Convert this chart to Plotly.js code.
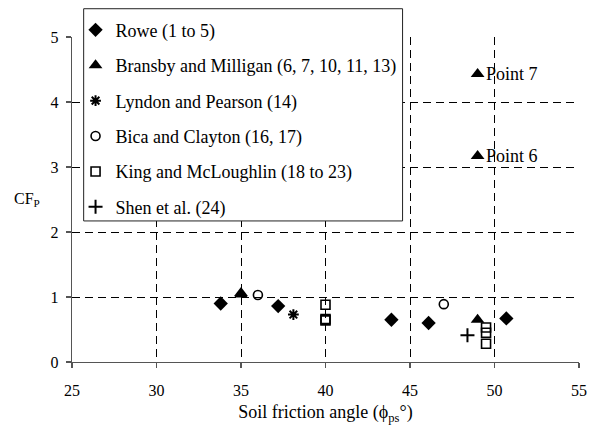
<!DOCTYPE html>
<html>
<head>
<meta charset="utf-8">
<script src="https://cdn.plot.ly/plotly-3.0.1.min.js"></script>
<style>
  html, body { margin: 0; padding: 0; background: #fff; }
  #chart { width: 600px; height: 428px; }
</style>
</head>
<body>
<div id="chart"></div>
<script>
// Passive earth pressure correction factor CF_P against soil friction angle
const roweX = [33.8, 37.2, 43.9, 46.1, 50.7];
const roweY = [0.90, 0.86, 0.65, 0.60, 0.67];

const bransbyX = [35.0, 35.0, 49.0, 49.0, 49.0];
const bransbyY = [1.06, 1.04, 3.17, 4.43, 0.65];
const pointLabels = [null, null, 'Point 6', 'Point 7', null];

const lyndonX = [38.1];
const lyndonY = [0.73];

const bicaX = [36.0, 47.0];
const bicaY = [1.03, 0.89];

const kingX = [40.0, 40.0, 40.0, 49.5, 49.5, 49.5];
const kingY = [0.88, 0.66, 0.64, 0.53, 0.45, 0.28];

const shenX = [48.4];
const shenY = [0.41];

const xTicks = [25, 30, 35, 40, 45, 50, 55];
const yTicks = [0, 1, 2, 3, 4, 5];

const serif = 'Liberation Serif, Times New Roman, Times, serif';
const ink = '#000';

function series(name, xs, ys, symbol, size, lineW, group) {
  return {
    type: 'scatter', mode: 'markers', name: name, x: xs, y: ys,
    legendgroup: group,
    marker: { symbol: symbol, size: size, color: ink, line: { color: ink, width: lineW } },
    cliponaxis: false, hoverinfo: 'x+y'
  };
}

const traces = [
  series('Rowe (1 to 5)', roweX, roweY, 'diamond', 11, 0, 'g1'),
  series('Bransby and Milligan (6, 7, 10, 11, 13)', bransbyX, bransbyY, 'triangle-up', 12, 0, 'g2'),
  series('Lyndon and Pearson (14)', lyndonX, lyndonY, 'asterisk-open', 9, 2, 'g3'),
  series('Bica and Clayton (16, 17)', bicaX, bicaY, 'circle-open', 9, 1.6, 'g4'),
  series('King and McLoughlin (18 to 23)', kingX, kingY, 'square-open', 9, 1.6, 'g5'),
  series('Shen et al. (24)', shenX, shenY, 'cross-thin-open', 10, 2, 'g6')
];

// Labels for the two isolated Bransby and Milligan tests
const annotations = [];
pointLabels.forEach((lab, i) => {
  if (!lab) return;
  annotations.push({
    x: bransbyX[i], y: bransbyY[i], xref: 'x', yref: 'y',
    text: lab, showarrow: false, xanchor: 'left', yanchor: 'middle',
    xshift: 6, font: { family: serif, size: 18, color: ink }
  });
});
// Horizontal y-axis caption
annotations.push({
  x: -0.089, y: 0.5, xref: 'paper', yref: 'paper',
  text: 'CF<sub>P</sub>', showarrow: false, xanchor: 'center', yanchor: 'middle',
  font: { family: serif, size: 16, color: ink }
});

const axisCommon = {
  showline: true, linecolor: '#555', linewidth: 1.3,
  ticks: 'outside', ticklen: 5, tickcolor: '#555', tickwidth: 1.2,
  showgrid: true, gridcolor: ink, gridwidth: 1, griddash: '8px,5px',
  zeroline: false, tickfont: { family: serif, size: 16, color: ink },
  fixedrange: true
};

const layout = {
  width: 600, height: 428,
  margin: { l: 72, r: 21, t: 37, b: 66 },
  paper_bgcolor: '#fff', plot_bgcolor: '#fff',
  font: { family: serif, color: ink },
  showlegend: true,
  xaxis: Object.assign({}, axisCommon, {
    range: [25, 55], tickmode: 'array', tickvals: xTicks,
    ticklabelstandoff: 8,
    title: { text: 'Soil friction angle (ϕ<sub>ps</sub>°)', font: { family: serif, size: 18, color: ink }, standoff: 8 }
  }),
  yaxis: Object.assign({}, axisCommon, {
    range: [0, 5], tickmode: 'array', tickvals: yTicks,
    ticklabelstandoff: 4
  }),
  legend: {
    x: 0.007, y: 1.078, xanchor: 'left', yanchor: 'top',
    bgcolor: 'rgba(0,0,0,0)', borderwidth: 0,
    font: { family: serif, size: 18, color: ink },
    traceorder: 'grouped', tracegroupgap: 9
  },
  shapes: [{
    type: 'rect', xref: 'paper', yref: 'paper', layer: 'above',
    x0: 0.023, x1: 0.652, y0: 0.434, y1: 1.087,
    fillcolor: '#fff', line: { color: '#222', width: 1 }
  }],
  annotations: annotations
};

Plotly.newPlot('chart', traces, layout, { displayModeBar: false, staticPlot: true });
</script>
</body>
</html>
